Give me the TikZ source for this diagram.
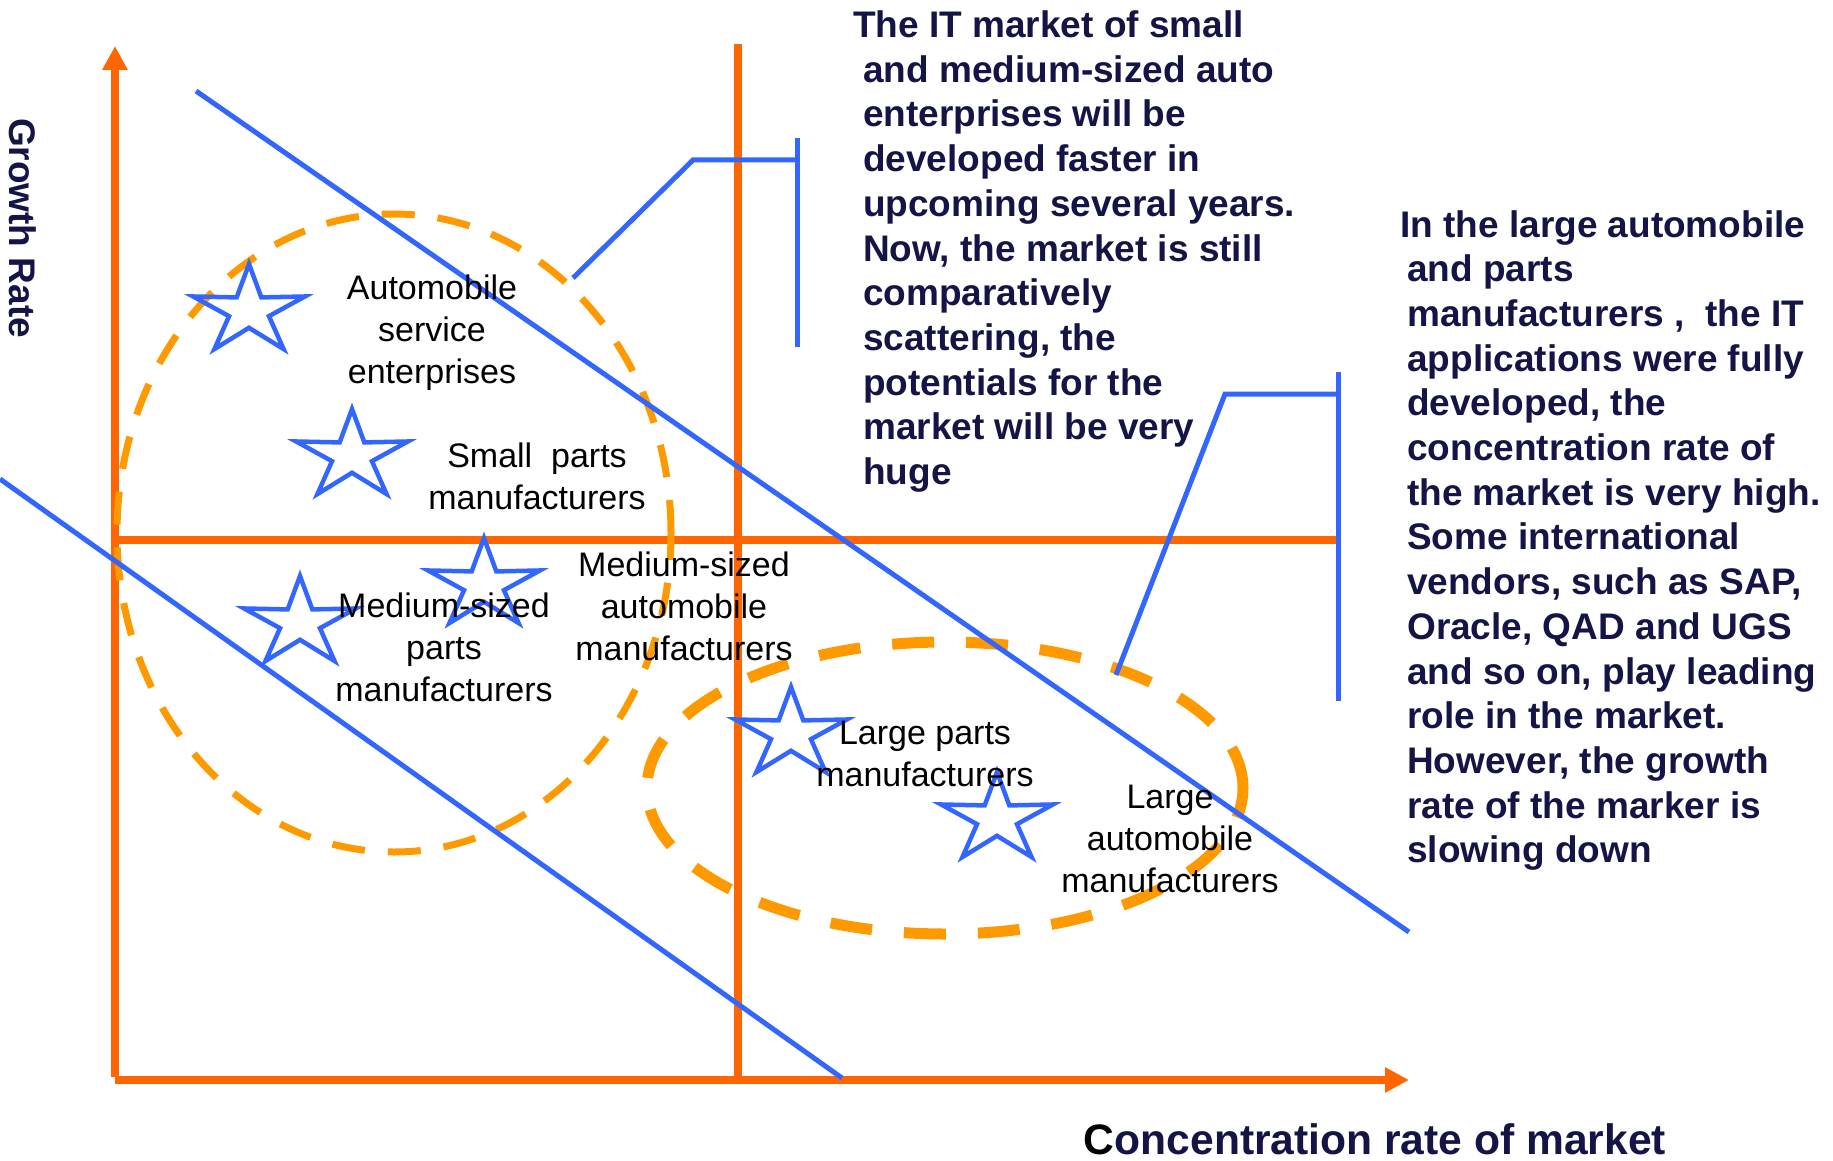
\documentclass[tikz,border=0pt]{standalone}
\usepackage{fontspec}
\setmainfont{Liberation Sans}
\usetikzlibrary{shapes.geometric,arrows.meta}
\definecolor{axisorange}{HTML}{FF6600}
\definecolor{ringorange}{HTML}{FF9900}
\definecolor{lineblue}{HTML}{3366FF}
\definecolor{navy}{HTML}{141446}
\begin{document}
\begin{tikzpicture}[x=1pt,y=-1pt,
  axis/.style={draw=axisorange,line width=7.5pt},
  axisarrow/.style={axis,-{Triangle[length=24pt,width=24pt]}},
  bluel/.style={draw=lineblue,line width=5pt},
  ring/.style={ellipse,draw=ringorange,line width=7pt,dash pattern=on 33pt off 23pt,inner sep=0pt},
  ringthick/.style={ellipse,draw=ringorange,line width=11pt,dash pattern=on 42pt off 32pt,inner sep=0pt},
  starmark/.style={star,star points=5,star point ratio=2.8,draw=lineblue,line width=4.5pt,minimum size=94pt,inner sep=0pt,outer sep=0pt,transform shape},
  lbl/.style={font=\fontsize{34}{42}\selectfont,align=center,text=black,inner sep=0pt},
  note/.style={font=\fontsize{37}{44.7}\selectfont\bfseries,align=left,text=navy,inner sep=0pt,anchor=north west}
]
\useasboundingbox (0,0) rectangle (1833,1161);

% axes and quadrant lines
\coordinate (origin) at (115,1077);
\coordinate (ytip) at (115,46);
\coordinate (xstart) at (115,1080);
\coordinate (xtip) at (1409,1080);
\coordinate (vtop) at (738,44);
\coordinate (vbot) at (738,1077);
\coordinate (hleft) at (115,540);
\coordinate (hright) at (1338,540);
\draw[axisarrow] (origin) -- (ytip);
\draw[axisarrow] (xstart) -- (xtip);
\draw[axis] (vtop) -- (vbot);
\draw[axis] (hleft) -- (hright);

% dashed groups
\node[ring,minimum width=554pt,minimum height=638pt] (groupA) at (394,533) {};
\node[ringthick,minimum width=596pt,minimum height=292pt] (groupB) at (945,788) {};

% blue diagonals
\coordinate (d1a) at (196,91);
\coordinate (d1b) at (1409,932);
\coordinate (d2a) at (0,479);
\coordinate (d2b) at (842,1078);
\draw[bluel] (d1a) -- (d1b);
\draw[bluel] (d2a) -- (d2b);

% callouts
\coordinate (c1a) at (573,278);
\coordinate (c1b) at (693,160);
\coordinate (c1c) at (797,160);
\coordinate (c1t) at (797,138);
\coordinate (c1u) at (797,347);
\draw[bluel] (c1a) -- (c1b) -- (c1c);
\draw[bluel] (c1t) -- (c1u);
\coordinate (c2a) at (1116,675);
\coordinate (c2b) at (1225,394);
\coordinate (c2c) at (1338,394);
\coordinate (c2t) at (1338,372);
\coordinate (c2u) at (1338,701);
\draw[bluel] (c2a) -- (c2b) -- (c2c);
\draw[bluel] (c2t) -- (c2u);

% stars
\begin{scope}[shift={(249,311)},xscale=1.25]\node[starmark] (s1) at (0,0) {};\end{scope}
\begin{scope}[shift={(352,456)},xscale=1.25]\node[starmark] (s2) at (0,0) {};\end{scope}
\begin{scope}[shift={(300,623)},xscale=1.25]\node[starmark] (s3) at (0,0) {};\end{scope}
\begin{scope}[shift={(484,585)},xscale=1.25]\node[starmark] (s4) at (0,0) {};\end{scope}
\begin{scope}[shift={(791,734)},xscale=1.25]\node[starmark] (s5) at (0,0) {};\end{scope}
\begin{scope}[shift={(997,819)},xscale=1.25]\node[starmark] (s6) at (0,0) {};\end{scope}

% labels
\node[lbl] (l1) at (432,333) {Automobile\\service\\enterprises};
\node[lbl] (l2) at (537,476) {Small\ \ parts\\manufacturers};
\node[lbl] (l3) at (444,647) {Medium-sized\\parts\\manufacturers};
\node[lbl] (l4) at (684,606) {Medium-sized\\automobile\\manufacturers};
\node[lbl] (l5) at (925,754) {Large parts\\manufacturers};
\node[lbl] (l6) at (1170,839) {Large\\automobile\\manufacturers};

% notes
\node[note] (n1) at (863,10.5) {\hspace*{-10pt}The IT market of small\\and medium-sized auto\\enterprises will be\\developed faster in\\upcoming several years.\\Now, the market is still\\comparatively\\scattering, the\\potentials for the\\market will be very\\huge};
\node[note] (n2) at (1407,210) {\hspace*{-7pt}In the large automobile\\and parts\\manufacturers ,\ \ the IT\\applications were fully\\developed, the\\concentration rate of\\the market is very high.\\Some international\\vendors, such as SAP,\\Oracle, QAD and UGS\\and so on, play leading\\role in the market.\\However, the growth\\rate of the marker is\\slowing down};

% axis labels
\node[rotate=-90,font=\fontsize{37}{44}\selectfont\bfseries,text=navy,inner sep=0pt] (ylabel) at (23,228) {Growth Rate};
\node[font=\fontsize{42.6}{50}\selectfont\bfseries,text=navy,inner sep=0pt] (xlabel) at (1375,1139) {\textcolor{black}{C}oncentration rate of market};
\end{tikzpicture}
\end{document}
